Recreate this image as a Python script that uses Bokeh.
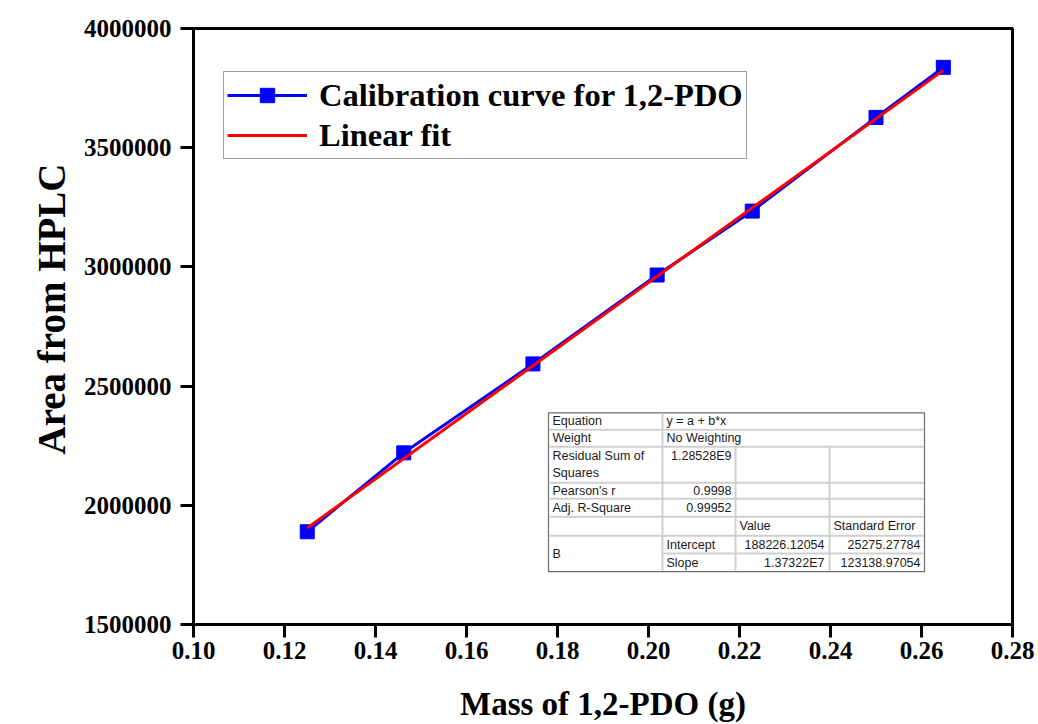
from bokeh.plotting import figure
from bokeh.models import (Range1d, FixedTicker, NumeralTickFormatter, Legend, LegendItem, Title)
from bokeh.core.properties import value
from bokeh.embed import file_html
from bokeh.resources import INLINE

# ---------------- data ----------------
mass_g = [0.125, 0.1462, 0.1746, 0.2019, 0.2228, 0.2500, 0.2648]
area_hplc = [1889000, 2220000, 2593000, 2966000, 3234000, 3627000, 3837000]

fit_x = [0.125, 0.2648]
fit_y = [1904750, 3824300]

x_ticks = [0.10, 0.12, 0.14, 0.16, 0.18, 0.20, 0.22, 0.24, 0.26, 0.28]
x_tick_labels = ["0.10", "0.12", "0.14", "0.16", "0.18", "0.20", "0.22", "0.24", "0.26", "0.28"]
y_ticks = [1500000, 2000000, 2500000, 3000000, 3500000, 4000000]
y_tick_labels = ["1500000", "2000000", "2500000", "3000000", "3500000", "4000000"]

table_col1 = ["Equation", "Weight", "Residual Sum of", "Squares", "Pearson's r", "Adj. R-Square", "B"]
table_equation = "y = a + b*x"
table_weight = "No Weighting"
table_rss = "1.28528E9"
table_pearson = "0.9998"
table_adjr2 = "0.99952"
table_head = ["Value", "Standard Error"]
table_params = ["Intercept", "Slope"]
table_values = ["188226.12054", "1.37322E7"]
table_errors = ["25275.27784", "123138.97054"]

# ---------------- layout ----------------
W, H = 1038, 724
FL, FR, FT, FB = 193, 1012, 28, 625
X0, X1 = 0.10, 0.28
Y0, Y1 = 1500000, 4000000

def xd(px):
    return X0 + (px - FL) / (FR - FL) * (X1 - X0)

def yd(py):
    return Y1 - (py - FT) / (FB - FT) * (Y1 - Y0)

SERIF = "Liberation Serif"
SANS = "Liberation Sans"

p = figure(width=W, height=H, output_backend="svg", toolbar_location=None,
           x_range=Range1d(X0, X1), y_range=Range1d(Y0, Y1),
           min_border_left=FL, min_border_right=W - FR,
           min_border_top=FT, min_border_bottom=H - FB)
p.grid.visible = False
p.outline_line_color = "black"
p.outline_line_width = 3
p.background_fill_color = "white"
p.border_fill_color = "white"

for ax in (p.xaxis[0], p.yaxis[0]):
    ax.axis_line_width = 3
    ax.major_tick_line_width = 3
    ax.major_tick_out = 13
    ax.major_tick_in = 0
    ax.minor_tick_out = 0
    ax.minor_tick_in = 0
    ax.major_label_text_font = SERIF
    ax.major_label_text_font_style = "bold"
    ax.major_label_text_font_size = "25px"
    ax.major_label_text_color = "black"
    ax.axis_label_text_font = SERIF
    ax.axis_label_text_font_style = "bold"
    ax.axis_label_text_color = "black"

p.xaxis[0].ticker = FixedTicker(ticks=x_ticks)
p.xaxis[0].formatter = NumeralTickFormatter(format="0.00")
p.xaxis[0].major_label_overrides = dict(zip(x_ticks, x_tick_labels))
p.xaxis[0].axis_label = "Mass of 1,2-PDO (g)"
p.xaxis[0].axis_label_text_font_size = "33px"
p.xaxis[0].major_label_standoff = 4
p.xaxis[0].axis_label_standoff = 24

p.yaxis[0].ticker = FixedTicker(ticks=y_ticks)
p.yaxis[0].formatter = NumeralTickFormatter(format="0")
p.yaxis[0].major_label_overrides = dict(zip(y_ticks, y_tick_labels))
p.yaxis[0].major_label_standoff = 9

ytitle = Title(text="Area from HPLC", align="left", offset=170, standoff=16,
               text_font=SERIF, text_font_style="bold", text_font_size="39px",
               text_color="black")
p.add_layout(ytitle, "left")

# ---------------- series ----------------
blue_line = p.line(mass_g, area_hplc, line_color="#0000FF", line_width=3)
blue_pts = p.scatter(mass_g, area_hplc, marker="square", size=14,
                     fill_color="#0000FF", line_color="#0000FF")
red_line = p.line(fit_x, fit_y, line_color="#FF0000", line_width=3)

legend = Legend(items=[
    LegendItem(label="Calibration curve for 1,2-PDO", renderers=[blue_line, blue_pts]),
    LegendItem(label="Linear fit", renderers=[red_line]),
], location=(30, 465))
legend.label_text_font = SERIF
legend.label_text_font_style = "bold"
legend.label_text_font_size = "32.5px"
legend.label_text_color = "black"
legend.label_height = 40
legend.glyph_height = 36
legend.glyph_width = 80
legend.label_standoff = 12
legend.padding = 3
legend.spacing = 0
legend.margin = 0
legend.border_line_color = "#404040"
legend.border_line_width = 1.5
legend.background_fill_alpha = 1
p.add_layout(legend, "center")

# ---------------- statistics table ----------------
TL, TR, TT, TB = 548, 924, 413, 572
c1, c2, c3 = 662, 735, 829
r = [413, 430, 447, 483, 499, 517, 536, 554, 572]

p.quad(left=[xd(TL)], right=[xd(TR)], top=[yd(TT)], bottom=[yd(TB)],
       fill_color="white", line_color="#6e6e6e", line_width=1.2)

GRID = "#cfcfcf"
hx0, hx1, hy = [], [], []
for rr in r[1:-1]:
    start = c1 if rr == 554 else TL + 1
    hx0.append(xd(start)); hx1.append(xd(TR - 1)); hy.append(yd(rr))
p.segment(x0=hx0, y0=hy, x1=hx1, y1=hy, line_color=GRID, line_width=2)
vx, vy0, vy1 = [], [], []
vx.append(xd(c1)); vy0.append(yd(TT + 1)); vy1.append(yd(TB - 1))
for cc in (c2, c3):
    vx.append(xd(cc)); vy0.append(yd(r[2])); vy1.append(yd(r[5]))
    vx.append(xd(cc)); vy0.append(yd(r[5])); vy1.append(yd(TB - 1))
p.segment(x0=vx, y0=vy0, x1=vx, y1=vy1, line_color=GRID, line_width=2)

TXT = dict(text_font=value(SANS), text_font_size="12.5px", text_color="#1a1a1a",
           text_baseline="middle")

def mid(a, b):
    return (a + b) / 2

lx = [xd(TL + 4)] * 7
ly = [yd(mid(r[0], r[1])), yd(mid(r[1], r[2])), yd(r[2] + 9), yd(r[2] + 26),
      yd(mid(r[3], r[4])), yd(mid(r[4], r[5])), yd(mid(r[6], r[8]))]
p.text(lx, ly, text=table_col1, text_align="left", **TXT)

p.text([xd(c1 + 4)] * 4,
       [yd(mid(r[0], r[1])), yd(mid(r[1], r[2])), yd(mid(r[6], r[7])), yd(mid(r[7], r[8]))],
       text=[table_equation, table_weight] + table_params, text_align="left", **TXT)

p.text([xd(c2 - 4)] * 3,
       [yd(r[2] + 9), yd(mid(r[3], r[4])), yd(mid(r[4], r[5]))],
       text=[table_rss, table_pearson, table_adjr2], text_align="right", **TXT)

p.text([xd(c2 + 4), xd(c3 + 4)], [yd(mid(r[5], r[6]))] * 2,
       text=table_head, text_align="left", **TXT)

p.text([xd(c3 - 5)] * 2, [yd(mid(r[6], r[7])), yd(mid(r[7], r[8]))],
       text=table_values, text_align="right", **TXT)
p.text([xd(TR - 4)] * 2, [yd(mid(r[6], r[7])), yd(mid(r[7], r[8]))],
       text=table_errors, text_align="right", **TXT)

open("out.html", "w").write(file_html(p, INLINE))
